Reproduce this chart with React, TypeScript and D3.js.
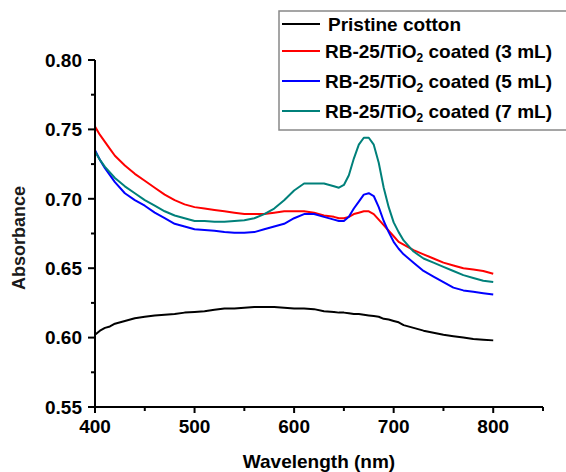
import React from "react";
import * as d3 from "d3";

const wavelengths = [400,405,410,415,420,430,440,450,460,470,480,490,500,510,520,530,540,550,560,570,580,590,600,610,620,630,640,645,650,655,660,665,670,675,680,685,690,695,700,705,710,720,730,740,750,760,770,780,790,800];

const pristine = [0.602,0.605,0.607,0.608,0.610,0.612,0.614,0.615,0.616,0.6165,0.617,0.618,0.6185,0.619,0.620,0.621,0.621,0.6215,0.622,0.622,0.622,0.6215,0.621,0.621,0.6205,0.619,0.6185,0.618,0.618,0.6175,0.617,0.617,0.6165,0.616,0.6155,0.615,0.6135,0.613,0.612,0.611,0.609,0.607,0.605,0.6035,0.602,0.601,0.600,0.599,0.5985,0.598];

const coated3 = [0.752,0.746,0.741,0.736,0.731,0.724,0.718,0.713,0.708,0.703,0.699,0.696,0.694,0.693,0.692,0.691,0.690,0.689,0.689,0.689,0.690,0.691,0.691,0.691,0.690,0.688,0.687,0.686,0.686,0.687,0.689,0.690,0.691,0.691,0.689,0.685,0.681,0.677,0.673,0.669,0.667,0.663,0.660,0.657,0.654,0.652,0.650,0.649,0.648,0.646];

const coated5 = [0.735,0.728,0.722,0.717,0.712,0.704,0.699,0.695,0.690,0.686,0.682,0.680,0.678,0.6775,0.677,0.676,0.6755,0.6755,0.676,0.678,0.680,0.682,0.686,0.689,0.689,0.687,0.685,0.684,0.684,0.687,0.693,0.698,0.703,0.704,0.702,0.694,0.684,0.676,0.669,0.664,0.660,0.654,0.648,0.644,0.640,0.636,0.634,0.633,0.632,0.631];

const coated7 = [0.734,0.728,0.723,0.719,0.715,0.709,0.704,0.699,0.695,0.691,0.688,0.686,0.684,0.684,0.6835,0.6835,0.684,0.6845,0.686,0.689,0.693,0.699,0.706,0.711,0.711,0.711,0.709,0.708,0.710,0.717,0.729,0.739,0.744,0.744,0.739,0.726,0.708,0.694,0.683,0.676,0.670,0.662,0.657,0.654,0.651,0.648,0.645,0.643,0.641,0.640];

const seriesNames = ["Pristine cotton", "RB-25/TiO2 coated (3 mL)", "RB-25/TiO2 coated (5 mL)", "RB-25/TiO2 coated (7 mL)"];
const seriesColors = ["#000000", "#ff0000", "#0000ff", "#00807a"];
const seriesValues = [pristine, coated3, coated5, coated7];

const xMajorTicks = [400, 500, 600, 700, 800];
const yMajorTicks = [0.55, 0.6, 0.65, 0.7, 0.75, 0.8];

export default function App() {
  const W = 566, H = 472;
  const x = d3.scaleLinear().domain([400, 850]).range([95, 543]);
  const y = d3.scaleLinear().domain([0.55, 0.8]).range([407, 60]);
  const line = d3.line<number>()
    .x((_, i) => x(wavelengths[i]))
    .y((v) => y(v));
  const xMinor = d3.range(450, 851, 100);
  const yMinor = d3.range(0.575, 0.8, 0.05);
  const font = "'Liberation Sans', Arial, sans-serif";

  const legendRows = [24, 51, 81, 111];

  const renderName = (name: string) => {
    const idx = name.indexOf("TiO2");
    if (idx < 0) return name;
    return (
      <>
        {name.slice(0, idx + 3)}
        <tspan fontSize={12} dy={4}>2</tspan>
        <tspan dy={-4}>{name.slice(idx + 4)}</tspan>
      </>
    );
  };

  return (
    <svg width={W} height={H} style={{ position: "absolute", left: 0, top: 0 }} fontFamily={font}>
      <rect x={0} y={0} width={W} height={H} fill="#fff" />
      {seriesValues.map((vals, i) => (
        <path key={i} d={line(vals) || ""} fill="none" stroke={seriesColors[i]} strokeWidth={2} strokeLinejoin="round" />
      ))}
      {/* axes */}
      <line x1={x(400)} x2={x(400)} y1={y(0.8)} y2={y(0.55) + 6} stroke="#000" strokeWidth={2} />
      <line x1={x(400) - 1} x2={x(850)} y1={y(0.55)} y2={y(0.55)} stroke="#000" strokeWidth={2} />
      {yMajorTicks.map((t) => (
        <g key={"ym" + t}>
          <line x1={x(400) - 7} x2={x(400)} y1={y(t)} y2={y(t)} stroke="#000" strokeWidth={2} />
          <text x={82} y={y(t)} dy="0.36em" textAnchor="end" fontSize={19} fontWeight="bold">{t.toFixed(2)}</text>
        </g>
      ))}
      {yMinor.map((t) => (
        <line key={"yn" + t} x1={x(400) - 4} x2={x(400)} y1={y(t)} y2={y(t)} stroke="#000" strokeWidth={2} />
      ))}
      {xMajorTicks.map((t) => (
        <g key={"xm" + t}>
          <line x1={x(t)} x2={x(t)} y1={y(0.55)} y2={y(0.55) + 6} stroke="#000" strokeWidth={2} />
          <text x={x(t)} y={433} textAnchor="middle" fontSize={19} fontWeight="bold">{t}</text>
        </g>
      ))}
      {xMinor.map((t) => (
        <line key={"xn" + t} x1={x(t)} x2={x(t)} y1={y(0.55)} y2={y(0.55) + 4} stroke="#000" strokeWidth={2} />
      ))}
      <text x={(x(400) + x(850)) / 2} y={468} textAnchor="middle" fontSize={19} fontWeight="bold">Wavelength (nm)</text>
      <text transform={`translate(25,238) rotate(-90)`} textAnchor="middle" fontSize={18} fontWeight="bold" fill="#1a1a1a">Absorbance</text>
      {/* legend */}
      <rect x={279} y={11} width={300} height={119} fill="#fff" stroke="#888" strokeWidth={1.5} />
      {seriesNames.map((name, i) => (
        <g key={"lg" + i}>
          <line x1={282} x2={320} y1={legendRows[i]} y2={legendRows[i]} stroke={seriesColors[i]} strokeWidth={2} />
          <text x={i === 0 ? 328 : 325} y={legendRows[i]} dy="0.36em" fontSize={19} fontWeight="bold">{renderName(name)}</text>
        </g>
      ))}
    </svg>
  );
}
